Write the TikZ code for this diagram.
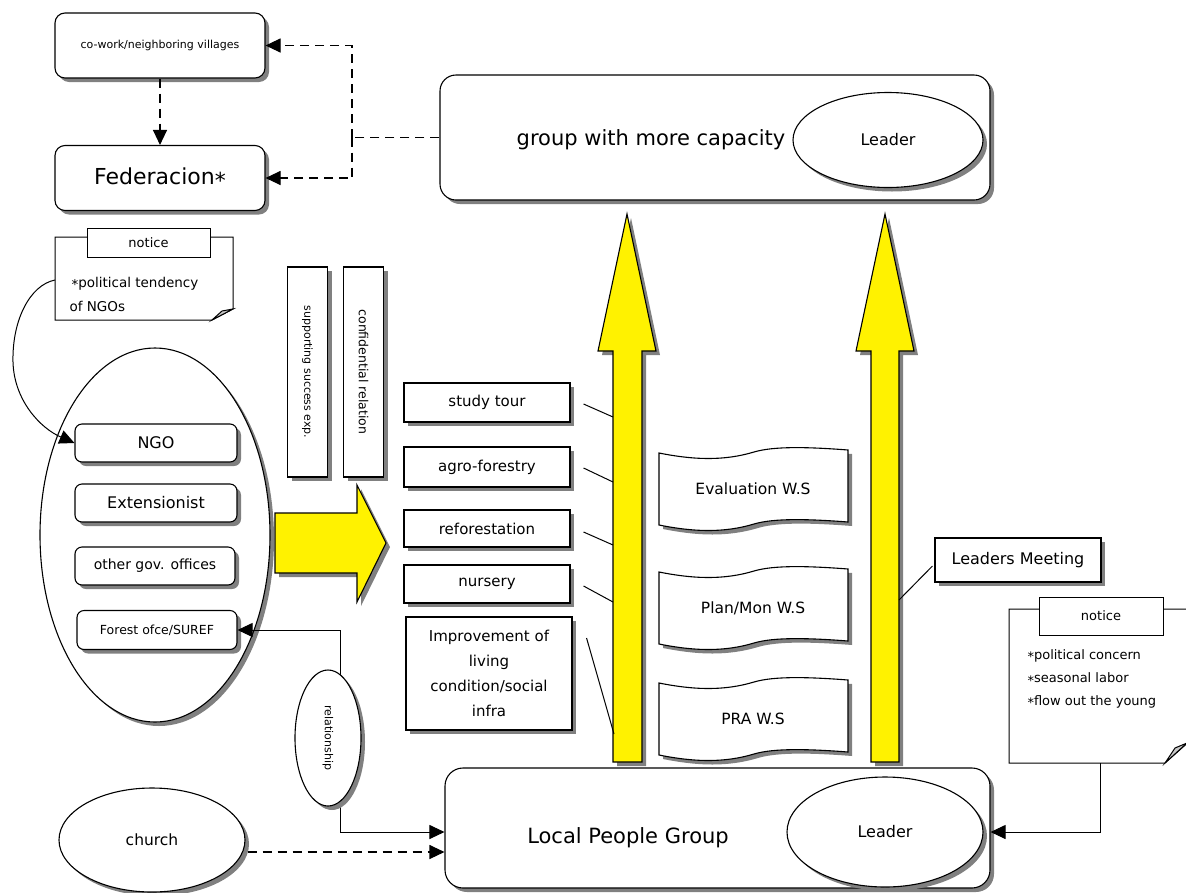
\documentclass[tikz,border=0pt]{standalone}
\usepackage{fontspec}
\setmainfont{DejaVu Sans}
\usetikzlibrary{shapes.geometric,arrows.meta,shadows,calc}
\definecolor{shgray}{RGB}{128,128,128}
\definecolor{foldgray}{RGB}{200,200,200}
\newcommand\fsz[2]{\fontsize{#1}{#2}\selectfont}
\newcommand\nstar{\raisebox{-0.3ex}{*}}
% wavy "document" shape: name, left x, top y, text
\newcommand\wavedoc[4]{%
  \begin{scope}[shift={(#2,#3)}]
    \path[draw, fill=white, line width=1.1pt, sh]
      (0,6) .. controls (35,13) and (65,14) .. (95,5)
            .. controls (115,-1) and (150,0) .. (189,3)
      -- (189,75) .. controls (150,72) and (115,71) .. (95,77)
            .. controls (65,86) and (35,85) .. (0,78) -- cycle;
    \node (#1) at (94,42) {\fsz{15.5}{18}#4};
  \end{scope}}
\begin{document}
\begin{tikzpicture}[x=1pt,y=-1pt,
  sh/.style={drop shadow={shadow xshift=4pt,shadow yshift=-4pt,fill=shgray,opacity=1}},
  ln/.style={line width=1pt},
  box/.style={draw, fill=white, line width=1.1pt, sh, inner sep=2pt},
  rbox/.style={box, rounded corners=7pt},
  oval/.style={draw, fill=white, ellipse, line width=1.1pt, sh},
  tip/.style={-{Triangle[length=15pt,width=14pt]}},
  dashln/.style={line width=1.1pt, dash pattern=on 9pt off 6pt},
  yel/.style={draw, fill=yellow, line width=1.1pt, sh},
]
\fill[white] (0,0) rectangle (1186,892);
\useasboundingbox (0,0) rectangle (1186,892);

% ---------- upper left: neighbours and federation ----------
\node[rbox, rounded corners=10pt, minimum width=210pt, minimum height=65pt] (cowork) at (160,45.5) {\fsz{11}{13}co-work/neighboring villages};
\node[rbox, rounded corners=10pt, minimum width=210pt, minimum height=65pt] (feder) at (160,178) {\fsz{22}{26}Federacion\nstar};
\draw[dashln, tip] (cowork.south) -- (feder.north);

% ---------- group with more capacity ----------
\node[rbox, rounded corners=16pt, minimum width=550pt, minimum height=125pt] (group) at (715,137.5) {};
\node (grouptxt) at (651,140) {\fsz{21}{25}group with more capacity};
\node[oval, minimum width=190pt, minimum height=95pt] (lead1) at (888,140) {\fsz{16}{19}Leader};

\coordinate (jn) at (352,137.5);
\draw[dashln] (group.west) -- (jn);
\draw[dashln, tip] (jn) |- (cowork.east);
\draw[dashln, tip] (jn) |- (feder.east);

% ---------- notice (left) ----------
\coordinate (note1w) at (55,280);
\path[draw, fill=white, ln] (55,237) -- (233,237) -- (233,309) -- (212,320) -- (55,320) -- cycle;
\path[draw, fill=foldgray, ln] (212,320) -- (233,309) -- (222,311) -- cycle;
\node[draw, fill=white, ln, minimum width=123pt, minimum height=29pt] (tab1) at (148.5,242.5) {\fsz{13}{15}notice};
\node[anchor=west] (note1a) at (68,284) {\fsz{13.5}{16}\nstar political tendency};
\node[anchor=west] (note1b) at (66,306) {\fsz{13.5}{16}of NGOs};

% ---------- supporting actors ----------
\node[oval, minimum width=230pt, minimum height=374pt] (actors) at (155,535) {};
\node[rbox, minimum width=162pt, minimum height=38pt] (ngo) at (156,443) {\fsz{16}{19}NGO};
\node[rbox, minimum width=162pt, minimum height=38pt] (ext) at (156,503) {\fsz{16}{19}Extensionist};
\node[rbox, minimum width=160pt, minimum height=38pt] (gov) at (155,566) {\fsz{14}{17}other gov. offices};
\node[rbox, minimum width=160pt, minimum height=39pt] (forest) at (157,630) {\fsz{12.5}{15}Forest ofce/SUREF};
\draw[ln, tip] (note1w) .. controls (30,285) and (12,320) .. (13,362)
               .. controls (14,400) and (40,428) .. (ngo.west);

% ---------- support columns and big arrow ----------
\node[box, minimum width=40pt, minimum height=210pt] (supp) at (307.5,372) {};
\node[rotate=-90] (supptxt) at (supp.center) {\fsz{11}{13}supporting success exp.};
\node[box, minimum width=40pt, minimum height=210pt] (conf) at (363.5,372) {};
\node[rotate=-90] (conftxt) at (conf.center) {\fsz{12.5}{15}confidential relation};
\path[yel] (275,513) -- (357,513) -- (357,485) -- (386,543) -- (357,602) -- (357,573) -- (275,573) -- cycle;

% ---------- activities ----------
\node[box, minimum width=166pt, minimum height=39pt] (study) at (487,402.5) {\fsz{15}{18}study tour};
\node[box, minimum width=166pt, minimum height=40pt] (agro) at (487,467) {\fsz{15}{18}agro-forestry};
\node[box, minimum width=166pt, minimum height=37pt] (refor) at (487,528.5) {\fsz{15}{18}reforestation};
\node[box, minimum width=166pt, minimum height=38pt] (nurs) at (487,584) {\fsz{15}{18}nursery};
\node[box, minimum width=166pt, minimum height=113pt, align=center, font=\fsz{15}{25}] (improv) at (489,673.5)
  {Improvement of\\living\\condition/social\\infra};

% ---------- upward growth arrows ----------
\path[yel] (613,762) -- (613,351) -- (598,351) -- (627,214) -- (656,351) -- (642,351) -- (642,762) -- cycle;
\path[yel] (871,762) -- (871,351) -- (856,351) -- (885,214) -- (914,351) -- (899,351) -- (899,762) -- cycle;

\coordinate (s1) at (613,417);
\coordinate (s2) at (613,482);
\coordinate (s3) at (613,545);
\coordinate (s4) at (613,602);
\coordinate (s5) at (614,734);
\draw[ln] ($(study.east)+(13,1.5)$) -- (s1);
\draw[ln] ($(agro.east)+(13,1)$) -- (s2);
\draw[ln] ($(refor.east)+(13,3.5)$) -- (s3);
\draw[ln] ($(nurs.east)+(13,2)$) -- (s4);
\draw[ln] ($(improv.east)+(14,-35.5)$) -- (s5);

% ---------- workshops ----------
\wavedoc{evalws}{659}{447}{Evaluation W.S}
\wavedoc{planws}{659}{566}{Plan/Mon W.S}
\wavedoc{praws}{659}{677}{PRA W.S}

% ---------- leaders meeting ----------
\node[box, minimum width=166pt, minimum height=44pt] (leadmeet) at (1018,560) {\fsz{16}{19}Leaders Meeting};
\coordinate (lm) at (899,600);
\draw[ln] ($(leadmeet.west)+(-2,6)$) -- (lm);

% ---------- local people group ----------
\node[rbox, rounded corners=18pt, minimum width=545pt, minimum height=120pt] (lpg) at (717.5,828) {};
\node (lpgtxt) at (628,838) {\fsz{21}{25}Local People Group};
\node[oval, minimum width=196pt, minimum height=110pt] (lead2) at (885,832) {\fsz{16}{19}Leader};

% ---------- notice (right) ----------
\path[draw, fill=white, ln] (1009,609) -- (1192,609) -- (1192,739) -- (1165,763) -- (1009,763) -- cycle;
\path[draw, fill=foldgray, ln] (1165,763) -- (1187,743) -- (1175,748) -- cycle;
\node[draw, fill=white, ln, minimum width=124pt, minimum height=38pt] (tab2) at (1101,616) {\fsz{13}{15}notice};
\node[anchor=west] (note2a) at (1024,656) {\fsz{13}{16}\nstar political concern};
\node[anchor=west] (note2b) at (1024,679) {\fsz{13}{16}\nstar seasonal labor};
\node[anchor=west] (note2c) at (1024,702) {\fsz{13}{16}\nstar flow out the young};
\coordinate (n2b) at (1100,763);
\draw[ln, tip] (n2b) |- ($(lpg.east)+(0,4)$);

% ---------- church and relationship ----------
\node[oval, minimum width=186pt, minimum height=104pt] (church) at (152,840) {\fsz{15.5}{18}church};
\coordinate (chs) at ($(church.east)+(2,12)$);
\draw[dashln, tip] (chs) -- (chs -| lpg.west);

\coordinate (rA) at (340,630);
\coordinate (rB) at (340,832);
\draw[ln, {Triangle[length=15pt,width=14pt]}-{Triangle[length=15pt,width=14pt]}]
  (forest.east) -- (rA) -- (rB) -- (rB -| lpg.west);
\node[oval, minimum width=66pt, minimum height=136pt] (rel) at (328,738) {};
\node[rotate=-90] (reltxt) at (rel.center) {\fsz{11}{13}relationship};
\end{tikzpicture}
\end{document}
